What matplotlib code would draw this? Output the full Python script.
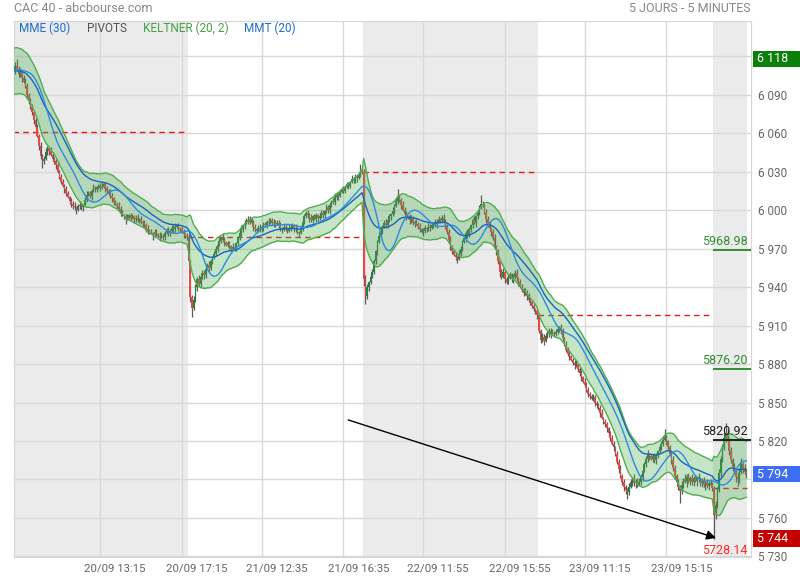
import numpy as np
import pandas as pd
import matplotlib
matplotlib.use("Agg")
import matplotlib.pyplot as plt
from matplotlib.patches import Rectangle
from matplotlib.transforms import ScaledTranslation

plt.rcParams["font.family"] = ["Roboto", "DejaVu Sans"]

# ---- data (5-min bars, 5 sessions) ----
OPEN0 = 6104
PREV_CLOSE0 = 6061
CLOSES = [
    # 20/09
    6108, 6112, 6110, 6106, 6108, 6103, 6100, 6097, 6090, 6085,
    6080, 6076, 6070, 6065, 6058, 6050, 6042, 6038, 6040, 6045,
    6048, 6046, 6043, 6040, 6038, 6035, 6030, 6026, 6022, 6019,
    6016, 6013, 6010, 6007, 6005, 6003, 6002, 6000, 6003, 6004,
    6002, 6004, 6008, 6012, 6013, 6011, 6015, 6017, 6016, 6018,
    6017, 6019, 6018, 6020, 6017, 6015, 6013, 6011, 6009, 6006,
    6005, 6003, 6001, 5998, 5996, 5995, 5993, 5994, 5996, 5994,
    5995, 5993, 5994, 5992, 5993, 5991, 5990, 5988, 5985, 5984,
    5983, 5982, 5981, 5983, 5981, 5980, 5979, 5980, 5979, 5982,
    5984, 5982, 5984, 5986, 5985, 5987, 5988, 5986, 5985, 5983,
    5981, 5980, 5979,
    # 21/09
    5960, 5932, 5924, 5930, 5940, 5946, 5942, 5948, 5951, 5949,
    5954, 5957, 5955, 5960, 5963, 5966, 5970, 5973, 5976, 5978,
    5977, 5975, 5973, 5974, 5972, 5970, 5971, 5970, 5974, 5978,
    5982, 5985, 5988, 5990, 5992, 5991, 5993, 5990, 5987, 5985,
    5984, 5986, 5985, 5987, 5989, 5988, 5991, 5990, 5992, 5990,
    5991, 5989, 5990, 5988, 5986, 5985, 5987, 5986, 5984, 5986,
    5987, 5988, 5986, 5985, 5983, 5982, 5986, 5991, 5995, 5998,
    5996, 5994, 5992, 5995, 5993, 5996, 5994, 5995, 5998, 5996,
    5999, 6002, 6000, 6004, 6007, 6006, 6010, 6012, 6011, 6014,
    6016, 6015, 6018, 6020, 6019, 6022, 6024, 6023, 6026, 6025,
    6028, 6031, 6030,
    # 22/09
    5946, 5933, 5940, 5944, 5948, 5952, 5960, 5968, 5975, 5980,
    5984, 5987, 5990, 5988, 5992, 5995, 5997, 5999, 6003, 6007,
    6010, 6008, 6004, 6000, 5997, 5994, 5995, 5992, 5993, 5990,
    5991, 5989, 5987, 5985, 5983, 5984, 5986, 5985, 5987, 5986,
    5988, 5990, 5989, 5991, 5993, 5992, 5994, 5991, 5988, 5983,
    5977, 5972, 5968, 5965, 5963, 5962, 5966, 5970, 5975, 5978,
    5982, 5980, 5985, 5988, 5992, 5990, 5995, 5998, 6002, 6005,
    6004, 5998, 5993, 5989, 5986, 5983, 5978, 5972, 5968, 5960,
    5952, 5948, 5952, 5946, 5944, 5947, 5950, 5946, 5948, 5951,
    5947, 5944, 5940, 5938, 5935, 5936, 5933, 5930, 5928, 5925,
    5923, 5921, 5918,
    # 23/09
    5906, 5899, 5901, 5898, 5902, 5905, 5903, 5906, 5904, 5903,
    5905, 5907, 5909, 5906, 5900, 5895, 5891, 5888, 5886, 5883,
    5881, 5879, 5880, 5876, 5873, 5870, 5866, 5864, 5860, 5857,
    5855, 5853, 5854, 5850, 5848, 5846, 5842, 5838, 5835, 5833,
    5830, 5826, 5822, 5818, 5815, 5810, 5804, 5798, 5793, 5788,
    5784, 5782, 5780, 5784, 5788, 5790, 5787, 5789, 5786, 5788,
    5792, 5797, 5802, 5806, 5810, 5808, 5806, 5808, 5805, 5809,
    5812, 5815, 5818, 5821, 5823, 5820, 5815, 5810, 5805, 5799,
    5793, 5788, 5784, 5781, 5786, 5790, 5788, 5792, 5789, 5791,
    5788, 5791, 5789, 5792, 5790, 5787, 5789, 5786, 5788, 5785,
    5787, 5786, 5783,
    # 26/09
    5762, 5770, 5782, 5795, 5806, 5815, 5822, 5826, 5820, 5812,
    5805, 5800, 5796, 5792, 5790, 5796, 5802, 5799, 5796, 5794,
]
HI_WICK = [
    2, 3, 6, 2, 3, 1, 2, 3, 2, 1,  2, 3, 1, 2, 2, 1, 3, 2, 2, 3,
    2, 1, 3, 2, 1, 2, 3, 1, 2, 2,  1, 3, 2, 1, 2, 2, 3, 1, 2, 3,
    2, 1, 2, 3, 2, 2, 1, 3, 2, 1,  2, 2, 3, 1, 2, 2, 1, 3, 2, 1,
    2, 1, 3, 2, 2, 1, 2, 3, 1, 2,  2, 1, 2, 3, 1, 2, 1, 2, 2, 3,
    1, 2, 1, 2, 2, 1, 3, 2, 1, 2,  2, 3, 1, 2, 2, 3, 1, 2, 1, 2,
    2, 1, 2,
    2, 1, 2, 3, 2, 2, 3, 1, 2, 2,  1, 2, 3, 2, 1, 2, 2, 3, 2, 1,
    3, 2, 1, 2, 2, 1, 3, 2, 1, 2,  2, 3, 1, 2, 2, 3, 2, 1, 2, 2,
    1, 2, 3, 1, 2, 2, 1, 3, 2, 2,  2, 1, 2, 2, 3, 1, 2, 2, 1, 3,
    2, 2, 1, 3, 2, 1, 2, 3, 2, 1,  2, 2, 3, 1, 2, 2, 1, 3, 2, 2,
    1, 3, 2, 2, 1, 2, 3, 2, 1, 2,  2, 3, 1, 2, 2, 1, 3, 2, 2, 1,
    2, 5, 2,
    2, 3, 2, 1, 3, 2, 2, 1, 2, 3,  2, 1, 2, 3, 2, 2, 1, 3, 2, 2,
    6, 2, 1, 3, 2, 2, 1, 2, 3, 2,  1, 2, 2, 3, 1, 2, 2, 1, 3, 2,
    2, 1, 3, 2, 2, 1, 2, 3, 2, 1,  2, 3, 1, 2, 2, 1, 3, 2, 2, 1,
    2, 3, 2, 1, 2, 3, 1, 2, 2, 7,  2, 1, 3, 2, 2, 1, 2, 3, 1, 2,
    2, 2, 3, 1, 2, 3, 2, 1, 2, 2,  3, 1, 2, 2, 1, 3, 2, 2, 1, 2,
    2, 1, 2,
    2, 1, 3, 2, 2, 1, 3, 2, 1, 2,  2, 3, 1, 2, 2, 1, 3, 2, 2, 1,
    2, 2, 3, 1, 2, 2, 1, 3, 2, 2,  1, 2, 3, 2, 1, 2, 2, 3, 1, 2,
    2, 1, 2, 3, 2, 1, 2, 2, 3, 1,  2, 2, 1, 3, 2, 2, 4, 1, 2, 3,
    2, 1, 2, 2, 3, 1, 2, 2, 3, 2,  1, 2, 2, 3, 6, 2, 1, 2, 2, 3,
    2, 1, 2, 2, 3, 1, 4, 2, 3, 2,  3, 2, 2, 1, 3, 2, 2, 3, 1, 2,
    2, 3, 2,
    2, 3, 2, 3, 2, 3, 4, 8, 3, 2,  3, 2, 3, 2, 4, 3, 5, 2, 3, 2,
]
LO_WICK = [
    3, 2, 1, 2, 2, 3, 1, 2, 3, 2,  1, 2, 3, 2, 1, 3, 2, 5, 2, 1,
    2, 3, 1, 2, 2, 3, 1, 2, 2, 1,  3, 2, 1, 2, 3, 2, 2, 3, 1, 2,
    2, 3, 1, 2, 1, 2, 3, 1, 2, 2,  1, 2, 2, 1, 3, 2, 1, 2, 3, 2,
    1, 2, 2, 3, 1, 2, 4, 1, 2, 2,  1, 3, 2, 1, 2, 2, 3, 1, 2, 3,
    2, 1, 4, 2, 1, 2, 3, 1, 2, 2,  1, 2, 2, 1, 3, 2, 1, 2, 2, 1,
    3, 2, 2,
    3, 4, 7, 2, 2, 3, 1, 2, 2, 3,  2, 1, 3, 2, 2, 1, 2, 3, 1, 2,
    2, 3, 1, 2, 2, 3, 1, 2, 2, 1,  1, 2, 2, 3, 1, 2, 2, 1, 3, 2,
    2, 1, 2, 2, 3, 1, 2, 2, 1, 2,  3, 2, 1, 2, 2, 3, 1, 2, 2, 1,
    2, 1, 3, 2, 2, 3, 1, 2, 2, 1,  2, 3, 1, 2, 1, 2, 3, 2, 1, 2,
    2, 1, 2, 3, 2, 1, 2, 2, 3, 1,  1, 2, 2, 1, 3, 2, 1, 2, 2, 3,
    1, 2, 2,
    5, 6, 2, 3, 2, 1, 2, 2, 3, 1,  2, 3, 1, 2, 2, 1, 3, 2, 2, 1,
    2, 2, 3, 1, 2, 2, 1, 3, 2, 2,  3, 1, 2, 2, 1, 3, 2, 2, 1, 2,
    1, 2, 2, 3, 1, 2, 2, 1, 3, 2,  2, 3, 2, 1, 2, 3, 1, 2, 2, 1,
    3, 2, 1, 2, 2, 1, 3, 2, 2, 1,  2, 1, 3, 2, 2, 3, 1, 2, 3, 2,
    4, 2, 1, 3, 2, 2, 1, 2, 3, 2,  2, 3, 1, 2, 2, 1, 3, 2, 2, 1,
    2, 2, 3,
    2, 3, 2, 3, 1, 2, 2, 3, 1, 2,  1, 2, 2, 3, 2, 1, 2, 2, 3, 1,
    2, 3, 1, 2, 2, 3, 1, 2, 2, 3,  2, 1, 2, 3, 2, 2, 3, 1, 2, 2,
    3, 2, 2, 1, 3, 2, 2, 3, 2, 2,  3, 3, 5, 2, 1, 3, 2, 4, 2, 1,
    2, 3, 1, 2, 2, 3, 1, 2, 2, 3,  2, 1, 2, 2, 1, 3, 2, 2, 3, 2,
    3, 2, 2, 9, 2, 3, 1, 4, 2, 3,  2, 3, 1, 4, 2, 2, 3, 2, 4, 2,
    3, 2, 2,
    18, 3, 2, 2, 3, 2, 2, 3, 2, 3,  2, 3, 2, 4, 5, 3, 2, 4, 2, 3,
]
DAY_STARTS = [0, 103, 206, 309, 412]
SHADED_DAYS = [0, 2, 4]
PIVOT_LEVELS = [5968.98, 5876.20, 5820.92, 5728.14]
PIVOT_COLORS = ["#2f8f2f", "#2f8f2f", "#222222", "#ff2a2a"]
TICK_POS = [51, 99, 146, 194, 241, 289, 336, 384]
TICK_LABELS = ["20/09 13:15", "20/09 17:15", "21/09 12:35", "21/09 16:35",
               "22/09 11:55", "22/09 15:55", "23/09 11:15", "23/09 15:15"]
Y_TICKS = list(range(5730, 6121, 30))
TREND_START = (196.9, 5836.4)
TREND_END = (413.2, 5744.4)
HIGH_BOX, LAST_BOX, LOW_BOX = 6118, 5794, 5744

assert len(CLOSES) == len(HI_WICK) == len(LO_WICK) == 432

# ---- derived series ----
c = np.array(CLOSES, float)
o = np.r_[OPEN0, c[:-1]]
h = np.maximum(o, c) + np.array(HI_WICK)
l = np.minimum(o, c) - np.array(LO_WICK)
x = np.arange(len(c))
s = pd.Series(c)
prev_c = pd.Series(o)
tr = pd.concat([pd.Series(h - l), (pd.Series(h) - prev_c).abs(),
                (pd.Series(l) - prev_c).abs()], axis=1).max(axis=1)
atr = tr.ewm(span=20, adjust=False).mean()
mid = s.ewm(span=20, adjust=False).mean()
k_up, k_lo = mid + 2 * atr, mid - 2 * atr
mme30 = s.ewm(span=30, adjust=False).mean()
mmt20 = s.rolling(10, min_periods=1).mean().rolling(11, min_periods=1).mean()

# ---- figure ----
W, H = 800, 580
fig = plt.figure(figsize=(W / 100, H / 100), dpi=100)
ax = fig.add_axes([14 / W, 1 - 557 / H, 737 / W, 536 / H])
XMIN, XMAX = 0.3, 433.8
ax.set_xlim(XMIN, XMAX)
ax.set_ylim(5729.6, 6147.3)

ends = DAY_STARTS[1:] + [len(c)]
for d in SHADED_DAYS:
    ax.axvspan(DAY_STARTS[d] - 0.5, ends[d] - 0.5, color="#ebebeb", lw=0, zorder=0.1)

ax.set_axisbelow(True)
ax.grid(True, color="#d9d9d9", lw=1)

# previous close lines
prev_closes = [PREV_CLOSE0] + [c[e - 1] for e in ends[:-1]]
for st, en, pc in zip(DAY_STARTS, ends, prev_closes):
    ax.hlines(pc, st - 0.5, en - 0.5, colors="#dd1c1c", lw=1.0,
              linestyles=(0, (4, 3)), zorder=2)

# candles
up = c >= o
col = np.where(up, "#1f8239", "#f04242")
ax.vlines(x, l, h, colors="#5a5a5a", lw=0.9, zorder=3)
body = np.where(np.abs(c - o) < 0.8, 0.8, c - o)
ax.bar(x, body, bottom=o, width=0.95, color=col, lw=0, zorder=3.5)

# keltner + averages
ax.fill_between(x, k_lo, k_up, color="#4caf50", alpha=0.32, lw=0, zorder=4)
ax.plot(x, k_up, color="#4fae4f", lw=1.0, zorder=5)
ax.plot(x, k_lo, color="#4fae4f", lw=1.0, zorder=5)
ax.plot(x, mme30, color="#1565c0", lw=1.0, zorder=6)
ax.plot(x, mmt20, color="#2b8be0", lw=1.0, zorder=6)

# pivots of the current session
for lev, pc in zip(PIVOT_LEVELS, PIVOT_COLORS):
    ax.hlines(lev, DAY_STARTS[-1] - 0.5, XMAX, colors=pc, lw=1.4, zorder=6)
    ax.text(431.8, lev + 1.2, f"{lev:.2f}", ha="right", va="bottom", color=pc,
            fontsize=9, zorder=7, clip_on=False)

# trend line
ax.annotate("", xy=TREND_END, xytext=TREND_START, zorder=7,
            arrowprops=dict(arrowstyle="-|>", color="black", lw=1.0,
                            mutation_scale=14, shrinkA=0, shrinkB=0))

# axes styling
for sp in ax.spines.values():
    sp.set_color("#d6d6d6")
ax.yaxis.tick_right()
ax.set_yticks(Y_TICKS)
# labels hidden under the value boxes are left blank
hidden = {LAST_BOX // 30 * 30, HIGH_BOX // 30 * 30 + 30}
ax.set_yticklabels(["" if v in hidden else f"{v:,}".replace(",", " ") for v in Y_TICKS])
ax.tick_params(axis="y", length=0, pad=5, labelsize=8.5, labelcolor="#666666")
ax.set_xticks(TICK_POS)
ax.set_xticklabels(TICK_LABELS)
ax.tick_params(axis="x", length=0, pad=5, labelsize=8.2, labelcolor="#666666")
for lbl in ax.get_xticklabels():
    lbl.set_transform(lbl.get_transform() + ScaledTranslation(0.15, 0, fig.dpi_scale_trans))

# value boxes at the right
ytr = ax.get_yaxis_transform()
for val, bc in [(HIGH_BOX, "#0a800a"), (LAST_BOX, "#3d6df2"), (LOW_BOX, "#c40000")]:
    ax.add_patch(Rectangle((1.0027, val - 6.3), 0.07, 12.6, transform=ytr,
                           color=bc, lw=0, clip_on=False, zorder=10))
    ax.text(1.0085, val, f"{val:,}".replace(",", " "), transform=ytr, color="white",
            fontsize=9, va="center", ha="left", zorder=11, clip_on=False)

# header and legend
fig.text(14 / W, 1 - 8 / H, "CAC 40 - abcbourse.com", color="#888888",
         fontsize=9, va="center")
fig.text(751 / W, 1 - 8 / H, "5 JOURS - 5 MINUTES", color="#888888",
         fontsize=9, va="center", ha="right")
for px, txt, tc in [(19, "MME (30)", "#1c6fd1"), (87, "PIVOTS", "#555555"),
                    (143, "KELTNER (20, 2)", "#43a043"), (244, "MMT (20)", "#1c6fd1")]:
    fig.text(px / W, 1 - 28 / H, txt, color=tc, fontsize=8.5, va="center")

fig.savefig("out.png", dpi=100)
